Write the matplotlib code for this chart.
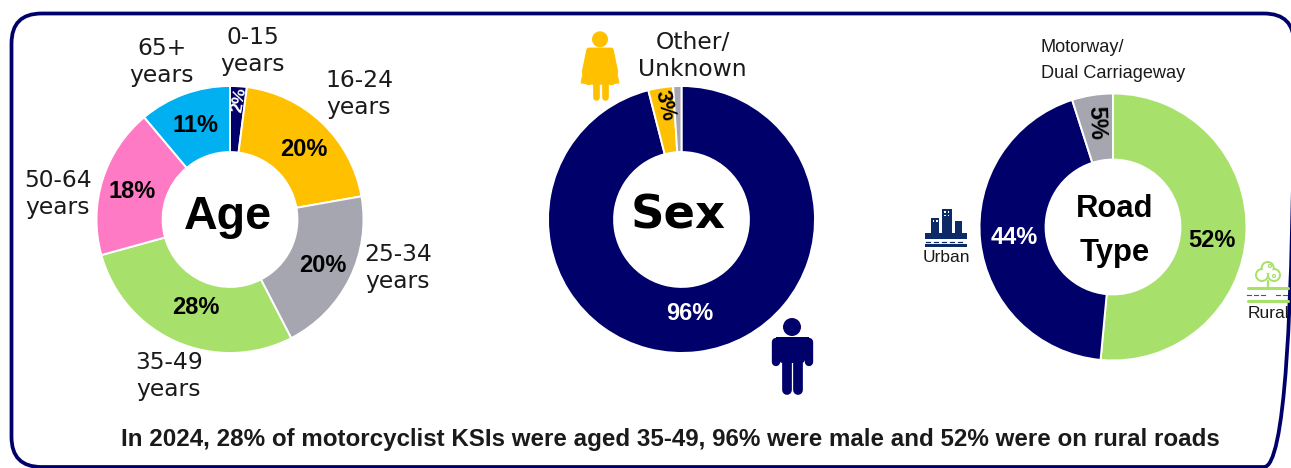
import matplotlib
matplotlib.use("Agg")
import matplotlib.pyplot as plt
from matplotlib.patches import FancyBboxPatch, Circle, Polygon, Rectangle

W, H = 1291, 468

# Shares of motorcyclist KSIs, 2024 (percent)
age_groups = ["0-15\nyears", "16-24\nyears", "25-34\nyears", "35-49\nyears", "50-64\nyears", "65+\nyears"]
age_values = [2, 20, 20, 28, 18, 11]
sex_groups = ["Male", "Female", "Other/\nUnknown"]
sex_values = [96, 3, 1]
road_groups = ["Rural", "Urban", "Motorway/\nDual Carriageway"]
road_values = [52, 44, 5]
headline = "In 2024, 28% of motorcyclist KSIs were aged 35-49, 96% were male and 52% were on rural roads"

NAVY = "#00006B"
GOLD = "#FFC000"
GREY = "#A6A6B0"
GREEN = "#A8E06C"
PINK = "#FF7AC4"
SKY = "#00B0F0"
ICON_NAVY = "#0B2A66"
TEXT = "#1a1a1a"
SANS = "Liberation Sans"

age_colors = [NAVY, GOLD, GREY, GREEN, PINK, SKY]
sex_colors = [NAVY, GOLD, GREY]
road_colors = [GREEN, NAVY, GREY]

fig = plt.figure(figsize=(W / 100, H / 100), dpi=100, facecolor="white")


def donut(cx, cy, values, colors, inner=0.505, radius=133.5):
    """Ring chart centred on pixel (cx, cy), clockwise from twelve o'clock."""
    ax = fig.add_axes([(cx - radius) / W, 1 - (cy + radius) / H, 2 * radius / W, 2 * radius / H])
    ax.pie(values, colors=colors, startangle=90, counterclock=False, radius=1,
           wedgeprops=dict(width=1 - inner, edgecolor="white", linewidth=1.4))
    ax.set_xlim(-1, 1)
    ax.set_ylim(-1, 1)
    ax.axis("off")
    return ax


donut(230, 219.5, age_values, age_colors)
donut(681.5, 219.5, sex_values, sex_colors)
donut(1113, 227, road_values, road_colors)

# Overlay measured in pixels, y downwards, for the frame, text and icons
ov = fig.add_axes([0, 0, 1, 1], facecolor="none")
ov.set_xlim(0, W)
ov.set_ylim(H, 0)
ov.axis("off")

ov.add_patch(FancyBboxPatch((11.5 + 30, 13.5 + 30), 1294 - 11.5 - 60, 467 - 13.5 - 60,
                            boxstyle="round,pad=30,rounding_size=30", fc="none", ec=NAVY,
                            lw=2.7, clip_on=False))


def label(x, y, s, size=16.8, color=TEXT, family="DejaVu Sans", weight="normal", rot=0, ha="center", ls=1.2):
    ov.text(x, y, s, fontsize=size, color=color, family=family, weight=weight, rotation=rot,
            ha=ha, va="center", linespacing=ls, rotation_mode="anchor", multialignment=ha)


def pct(x, y, value, color="black", rot=0, size=17):
    label(x, y, f"{value}%", size=size, color=color, family=SANS, weight="bold", rot=rot)


# Age ring
for (x, y), text in zip([(253, 51), (359, 94), (398, 268), (169, 376), (58, 194), (162, 62)], age_groups):
    label(x, y, text)
for (x, y), v, col, rot, sz in zip(
        [(239.5, 100), (304, 149), (323, 265), (195.7, 308), (132, 191.7), (195.7, 126)],
        age_values, ["white"] + ["black"] * 5, [80, 0, 0, 0, 0, 0], [12.5, 17, 17, 17, 17, 17]):
    pct(x, y, v, col, rot, sz)
label(227.7, 217, "Age", size=33.6, color="black", family=SANS, weight="bold")

# Sex ring
label(692.7, 56, sex_groups[2])
pct(689.3, 313, sex_values[0], "white")
pct(665, 106, sex_values[1], "black", rot=-76, size=15.5)
label(677.7, 216, "Sex", size=33.5, color="black", weight="bold")

# Road type ring
label(1041, 60.5, road_groups[2], size=13.1, family=SANS, ha="left", ls=1.75)
pct(1212, 240.7, road_values[0])
pct(1014.7, 237, road_values[1], "white")
pct(1096.7, 123, road_values[2], "black", rot=-88)
label(1115, 231, "Road\nType", size=22.3, color="black", family=SANS, weight="bold", ls=1.6)
label(946, 258, road_groups[1], size=12.5, family=SANS)
label(1268.5, 313, road_groups[0], size=12.5, family=SANS)

label(670.5, 439.5, headline, size=17.4, color=TEXT, family=SANS, weight="bold")


def fill_poly(points, color):
    ov.add_patch(Polygon(points, closed=True, fc=color, ec=color, lw=0.6, joinstyle="round"))


def stroke(xs, ys, color, lw):
    ov.plot(xs, ys, color=color, lw=lw, solid_capstyle="round")


# Woman pictogram
ov.add_patch(Circle((600, 39.3), 8, fc=GOLD, ec="none"))
fill_poly([(589, 48), (611, 48), (614, 58), (619, 83), (610, 84), (613, 84), (587, 84), (590, 84), (581, 83), (586, 58)], GOLD)
stroke([588.5, 584], [50, 72], GOLD, 3.2)
stroke([611.5, 616], [50, 72], GOLD, 3.2)
fill_poly([(593, 50), (607, 50), (614, 84), (586, 84)], GOLD)
stroke([595.5, 595.5], [84, 97], GOLD, 4.8)
stroke([604.5, 604.5], [84, 97], GOLD, 4.8)

# Man pictogram
ov.add_patch(Circle((792, 327), 9, fc=NAVY, ec="none"))
ov.add_patch(FancyBboxPatch((779, 339), 26, 24, boxstyle="round,pad=0,rounding_size=4", fc=NAVY, ec="none"))
stroke([775.5, 775.5], [342, 362], NAVY, 6)
stroke([808.5, 808.5], [342, 362], NAVY, 6)
stroke([786.5, 786.5], [360, 390], NAVY, 7)
stroke([797.5, 797.5], [360, 390], NAVY, 7)
ov.add_patch(Rectangle((775.5, 337), 33, 8, fc=NAVY, ec="none"))

# Skyline pictogram
for x0, x1, y0, y1 in [(931, 939.3, 218, 233), (942, 952.3, 209, 233), (955, 961.7, 220.7, 233),
                       (925.3, 966.7, 232.7, 239), (925.3, 966.7, 244, 247.3)]:
    ov.add_patch(Rectangle((x0, y0), x1 - x0, y1 - y0, fc=ICON_NAVY, ec="none"))
for x, y in [(932.5, 220), (936, 220), (944, 211), (947.5, 211), (944, 214.5), (947.5, 214.5)]:
    ov.add_patch(Rectangle((x, y), 1.8, 1.8, fc="white", ec="none"))
for x0 in range(926, 966, 8):
    ov.plot([x0, x0 + 4], [241.5, 241.5], color=ICON_NAVY, lw=0.9)

# Tree pictogram
for (x, y, r) in [(1267.7, 268, 7), (1262, 275, 7), (1274, 275, 7)]:
    ov.add_patch(Circle((x, y), r, fc=GREEN, ec="none"))
for (x, y, r) in [(1267.7, 268, 5), (1262, 275, 5), (1274, 275, 5)]:
    ov.add_patch(Circle((x, y), r, fc="white", ec="none"))
ov.add_patch(Circle((1270, 266), 1.5, fc="white", ec=GREEN, lw=0.9))
ov.add_patch(Circle((1274, 276), 1.5, fc="white", ec=GREEN, lw=0.9))
stroke([1267.7, 1267.7], [281, 288], GREEN, 1.6)
stroke([1248, 1288], [288, 288], GREEN, 2.2)
stroke([1248, 1288], [301, 301], GREEN, 2.2)
for x0 in (1247, 1254, 1261, 1276, 1283):
    ov.plot([x0, x0 + 4], [295, 295], color="#555555", lw=0.8)

fig.savefig("out.png", dpi=100, facecolor="white")
